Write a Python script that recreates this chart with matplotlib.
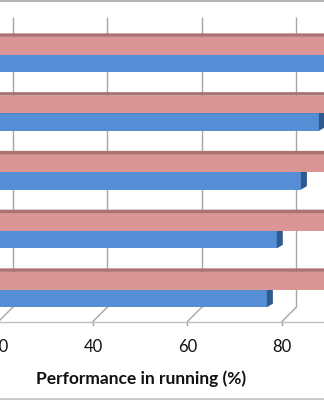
import matplotlib
matplotlib.use("Agg")
import matplotlib.pyplot as plt
from matplotlib.patches import Polygon, Rectangle

# ---- data ----
categories = ["Group 1", "Group 2", "Group 3", "Group 4", "Group 5"]
series_pink = [95, 94, 93, 93, 92]
series_blue = [91, 87.8, 84.0, 78.9, 76.8]
tick_values = [20, 40, 60, 80]
tick_labels = ["20", "40", "60", "80"]
x_title = "Performance in running (%)"

W, H = 324, 400
fig = plt.figure(figsize=(W / 100, H / 100), dpi=100)
ax = fig.add_axes([0, 0, 1, 1])
ax.set_axis_off()

# front-plane scale: px = 93 + (v-40)*4.725
ppu = 4.725
x0 = 40 - 93 / ppu
x1 = x0 + W / ppu
ax.set_xlim(x0, x1)
# category scale: center px = 54.5 + 58.75*i
ppc = 58.75
y_top = -54.5 / ppc
y_bot = y_top + H / ppc
ax.set_ylim(y_bot, y_top)

def py(p):  # pixel row -> data y
    return y_top + p / ppc

def pxu(p):  # pixel width -> value units
    return p / ppu

# depth vectors
bar_dx, bar_dy = pxu(6), -3.5 / ppc
wall_dx = pxu(14.5)

grid_c = "#a6a6a6"
# back-wall gridlines + floor slants
for v, lab in zip(tick_values, tick_labels):
    ax.plot([v + wall_dx, v + wall_dx], [py(17), py(307)], color=grid_c, lw=1.0, zorder=1,
            solid_capstyle="butt")
    ax.plot([v + wall_dx, v], [py(307), py(321.5)], color=grid_c, lw=1.0, zorder=1)
    ax.plot([v, v], [py(321.5), py(325)], color=grid_c, lw=1.0, zorder=1)
    ax.text(v, py(347), lab, ha="center", va="center",
            fontsize=12, family="Lato", color="#111111", zorder=5)
# front floor edge
ax.plot([x0, x1], [py(321.5), py(321.5)], color="#bfbfbf", lw=1.0, zorder=1)

h = 0.3
blue_f, blue_s, blue_t = "#558ed5", "#2f5a8e", "#3f6fae"
pink_f, pink_s, pink_t = "#d99694", "#9c6261", "#ab7372"

def bar3d(yc, val, cf, cs, ct, z):
    ytop, ybot = yc - h / 2, yc + h / 2
    ax.add_patch(Rectangle((x0 - 5, ytop), val - (x0 - 5), h, facecolor=cf, edgecolor="none", zorder=z))
    # top face
    ax.add_patch(Polygon([(x0 - 5, ytop), (val, ytop), (val + bar_dx, ytop + bar_dy),
                          (x0 - 5 + bar_dx, ytop + bar_dy)], closed=True,
                         facecolor=ct, edgecolor="none", zorder=z))
    # side face
    ax.add_patch(Polygon([(val, ytop), (val, ybot), (val + bar_dx, ybot + bar_dy),
                          (val + bar_dx, ytop + bar_dy)], closed=True,
                         facecolor=cs, edgecolor="none", zorder=z))

for i, cat in enumerate(categories):
    bar3d(i + h / 2, series_blue[i], blue_f, blue_s, blue_t, 2 + i * 0.1)
    bar3d(i - h / 2, series_pink[i], pink_f, pink_s, pink_t, 2.05 + i * 0.1)

# borders
ax.plot([x0, x1], [py(1), py(1)], color="#a6a6a6", lw=1.2, zorder=6)
ax.plot([x0, x1], [py(398.5), py(398.5)], color="#c8c8c8", lw=2.0, zorder=6)

fig.text(141 / W, 1 - 384 / H, x_title, ha="center", va="baseline",
         fontsize=12.5, fontweight="bold", family="Lato", color="#111111")

fig.savefig("out.png", dpi=100)
